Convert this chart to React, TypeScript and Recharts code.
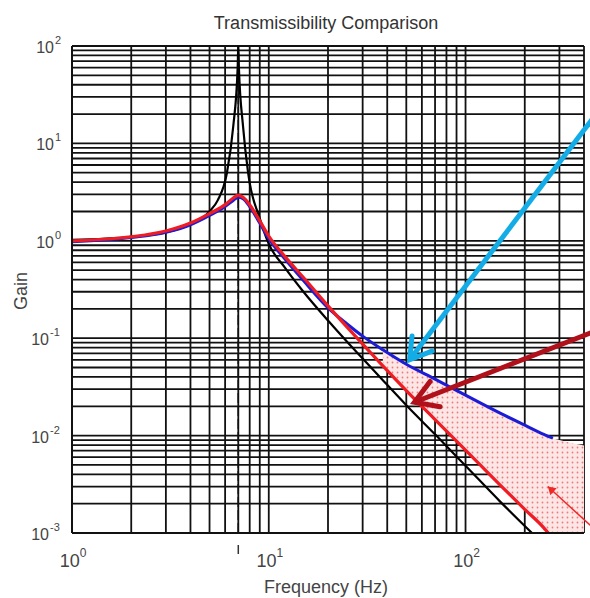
import React from 'react'
import { ComposedChart, Line, Area, XAxis, YAxis, CartesianGrid, ReferenceLine } from 'recharts'

// values (log-log)
const freq = [1, 2, 3, 4, 5, 5.5, 6, 6.13, 6.6, 6.95, 7, 7.05, 7.4, 7.85, 8, 9, 10, 12, 15, 20, 25, 30, 38, 50, 70, 100, 150, 200, 250, 262, 278, 300, 400]
const undampedGain = [1.02, 1.1, 1.22, 1.48, 2.0, 2.6, null, 5, 15, 60, 100, 60, 15, 5, null, 1.7, 0.93, 0.54, 0.3, 0.152, 0.092, 0.062, 0.037, 0.0205, 0.0103, 0.0049, 0.0021, 0.00118, 0.00076, null, null, null, null]
const activeGain = [1.0, 1.1, 1.26, 1.52, 1.9, null, 2.35, null, 2.75, null, 2.95, null, 2.8, null, 2.35, 1.6, 1.12, 0.7, 0.42, 0.215, 0.13, 0.087, 0.052, 0.029, 0.0146, 0.0071, 0.0031, 0.00175, 0.00113, 0.00101, null, 0.00077, 0.00043]
const passiveGain = [0.98, 1.08, 1.22, 1.46, 1.82, null, 2.25, null, 2.6, null, 2.8, null, 2.7, null, 2.25, 1.52, 1.05, 0.66, 0.39, 0.205, 0.14, 0.105, 0.076, 0.054, 0.038, 0.026, 0.017, 0.0128, 0.0103, null, 0.0094, null, null]
const bandLow = [null, null, null, null, null, null, null, null, null, null, null, null, null, null, null, null, null, null, null, null, null, null, 0.052, 0.029, 0.0146, 0.0071, 0.0031, 0.00175, 0.00113, 0.00101, 0.001, 0.001, 0.001]
const bandHigh = [null, null, null, null, null, null, null, null, null, null, null, null, null, null, null, null, null, null, null, null, null, null, 0.074, 0.054, 0.038, 0.026, 0.017, 0.0128, 0.0103, 0.0099, 0.0094, 0.009, 0.0079]

const xTicks = [1, 2, 3, 4, 5, 6, 7, 8, 9, 10, 20, 30, 40, 50, 60, 70, 80, 90, 100, 200, 300, 400]
const yTicks = [0.001, 0.002, 0.003, 0.004, 0.005, 0.006, 0.007, 0.008, 0.009, 0.01, 0.02, 0.03, 0.04, 0.05, 0.06, 0.07, 0.08, 0.09, 0.1, 0.2, 0.3, 0.4, 0.5, 0.6, 0.7, 0.8, 0.9, 1, 2, 3, 4, 5, 6, 7, 8, 9, 10, 20, 30, 40, 50, 60, 70, 80, 90, 100]

const resonanceHz = 7

// annotation arrows: [tail, tip] in data units
const cyanArrow = [{ x: 440, y: 17.7 }, { x: 52, y: 0.06 }]
const darkRedArrow = [{ x: 440, y: 0.115 }, { x: 55, y: 0.022 }]
const smallRedArrow = [{ x: 430, y: 0.0012 }, { x: 262, y: 0.003 }]

const data = freq.map((f, i) => ({
  f,
  undamped: undampedGain[i],
  active: activeGain[i],
  passive: passiveGain[i],
  band: bandLow[i] != null && bandHigh[i] != null ? [bandLow[i], bandHigh[i]] : null,
}))

const FONT = '"Liberation Sans", Arial, sans-serif'

function exponentOf(v: number) {
  const e = Math.log10(v)
  return Math.abs(e - Math.round(e)) < 1e-6 ? Math.round(e) : null
}

const XTick = (props: any) => {
  const { x, y, payload } = props
  const e = exponentOf(payload.value)
  if (e === null) return null
  return (
    <text x={x + 1} y={y + 34} textAnchor="middle" fontFamily={FONT} fontSize={18} fill="#444">
      <tspan>10</tspan>
      <tspan dy={-10} fontSize={12}>{e}</tspan>
    </text>
  )
}

const YTick = (props: any) => {
  const { x, y, payload } = props
  const e = exponentOf(payload.value)
  if (e === null) return null
  const sup = String(e)
  return (
    <g>
      <text x={x - 18 - (sup.length - 1) * 5} y={y + 7} textAnchor="end" fontFamily={FONT} fontSize={16} fill="#444">10</text>
      <text x={x - 17 - (sup.length - 1) * 5} y={y - 2} textAnchor="start" fontFamily={FONT} fontSize={11} fill="#444">{sup}</text>
    </g>
  )
}

function makeArrow(color: string, width: number, head: number, open: boolean) {
  return (props: any) => {
    const { x1, y1, x2, y2 } = props
    const ang = Math.atan2(y1 - y2, x1 - x2)
    const spread = 0.55
    const ax = x2 + head * Math.cos(ang + spread)
    const ay = y2 + head * Math.sin(ang + spread)
    const bx = x2 + head * Math.cos(ang - spread)
    const by = y2 + head * Math.sin(ang - spread)
    if (open) {
      return (
        <g>
          <line x1={x1} y1={y1} x2={x2} y2={y2} stroke={color} strokeWidth={width} />
          <polyline points={`${ax},${ay} ${x2},${y2} ${bx},${by}`} fill="none" stroke={color} strokeWidth={width} strokeLinecap="round" strokeLinejoin="miter" />
        </g>
      )
    }
    return (
      <g>
        <line x1={x1} y1={y1} x2={x2} y2={y2} stroke={color} strokeWidth={width} />
        <polygon points={`${ax},${ay} ${x2},${y2} ${bx},${by}`} fill={color} />
      </g>
    )
  }
}

const ResonanceTick = (props: any) => {
  const { viewBox } = props
  if (!viewBox) return null
  const x = viewBox.x
  const bottom = viewBox.y + viewBox.height
  return <line x1={x} x2={x} y1={bottom + 12} y2={bottom + 21} stroke="#333" strokeWidth={1.5} />
}

export default function App() {
  return (
    <div style={{ position: 'absolute', left: 0, top: 0, width: 590, height: 598, background: '#fff' }}>
      <ComposedChart width={590} height={598} data={data} margin={{ top: 46, right: 6, left: 12, bottom: 25 }}>
        <defs>
          <pattern id="pinkDots" width="5" height="5" patternUnits="userSpaceOnUse">
            <rect width="5" height="5" fill="#fde6e6" />
            <circle cx="2.5" cy="2.5" r="0.9" fill="#ef7a7a" />
          </pattern>
        </defs>
        <CartesianGrid stroke="#111" strokeWidth={1.8} />
        <XAxis
          dataKey="f"
          type="number"
          scale="log"
          domain={[1, 400]}
          allowDataOverflow
          ticks={xTicks}
          interval={0}
          height={40}
          tickSize={0}
          tickMargin={0}
          tick={<XTick />}
          axisLine={{ stroke: '#111', strokeWidth: 2 }}
        />
        <YAxis
          type="number"
          scale="log"
          domain={[0.001, 100]}
          allowDataOverflow
          ticks={yTicks}
          interval={0}
          width={60}
          tickSize={0}
          tickMargin={0}
          tick={<YTick />}
          axisLine={{ stroke: '#111', strokeWidth: 2 }}
        />
        <Area dataKey="band" type="monotone" stroke="none" fill="url(#pinkDots)" fillOpacity={1} isAnimationActive={false} />
        <ReferenceLine x={resonanceHz} stroke="#111" strokeWidth={1.5} strokeDasharray="10 3" label={<ResonanceTick />} />
        <Line dataKey="undamped" type="monotone" stroke="#000" strokeWidth={2.2} dot={false} connectNulls isAnimationActive={false} />
        <Line dataKey="passive" type="monotone" stroke="#1c1cd6" strokeWidth={3} dot={false} connectNulls isAnimationActive={false} />
        <Line dataKey="active" type="monotone" stroke="#f01c24" strokeWidth={3.2} dot={false} connectNulls isAnimationActive={false} />
        <ReferenceLine segment={smallRedArrow} ifOverflow="visible" shape={makeArrow('#f02828', 1.5, 9, false)} />
        <ReferenceLine segment={cyanArrow} ifOverflow="visible" shape={makeArrow('#14ace6', 5, 24, true)} />
        <ReferenceLine segment={darkRedArrow} ifOverflow="visible" shape={makeArrow('#b0101a', 5, 26, true)} />
      </ComposedChart>
      <svg width={590} height={598} style={{ position: 'absolute', left: 0, top: 0, pointerEvents: 'none' }}>
        <text x={326} y={29} textAnchor="middle" fontFamily={FONT} fontSize={18} fill="#333">Transmissibility Comparison</text>
        <text x={326} y={593} textAnchor="middle" fontFamily={FONT} fontSize={18} fill="#444">Frequency (Hz)</text>
        <text x={0} y={0} transform="translate(27 291) rotate(-90)" textAnchor="middle" fontFamily={FONT} fontSize={18} fill="#444">Gain</text>
      </svg>
    </div>
  )
}
